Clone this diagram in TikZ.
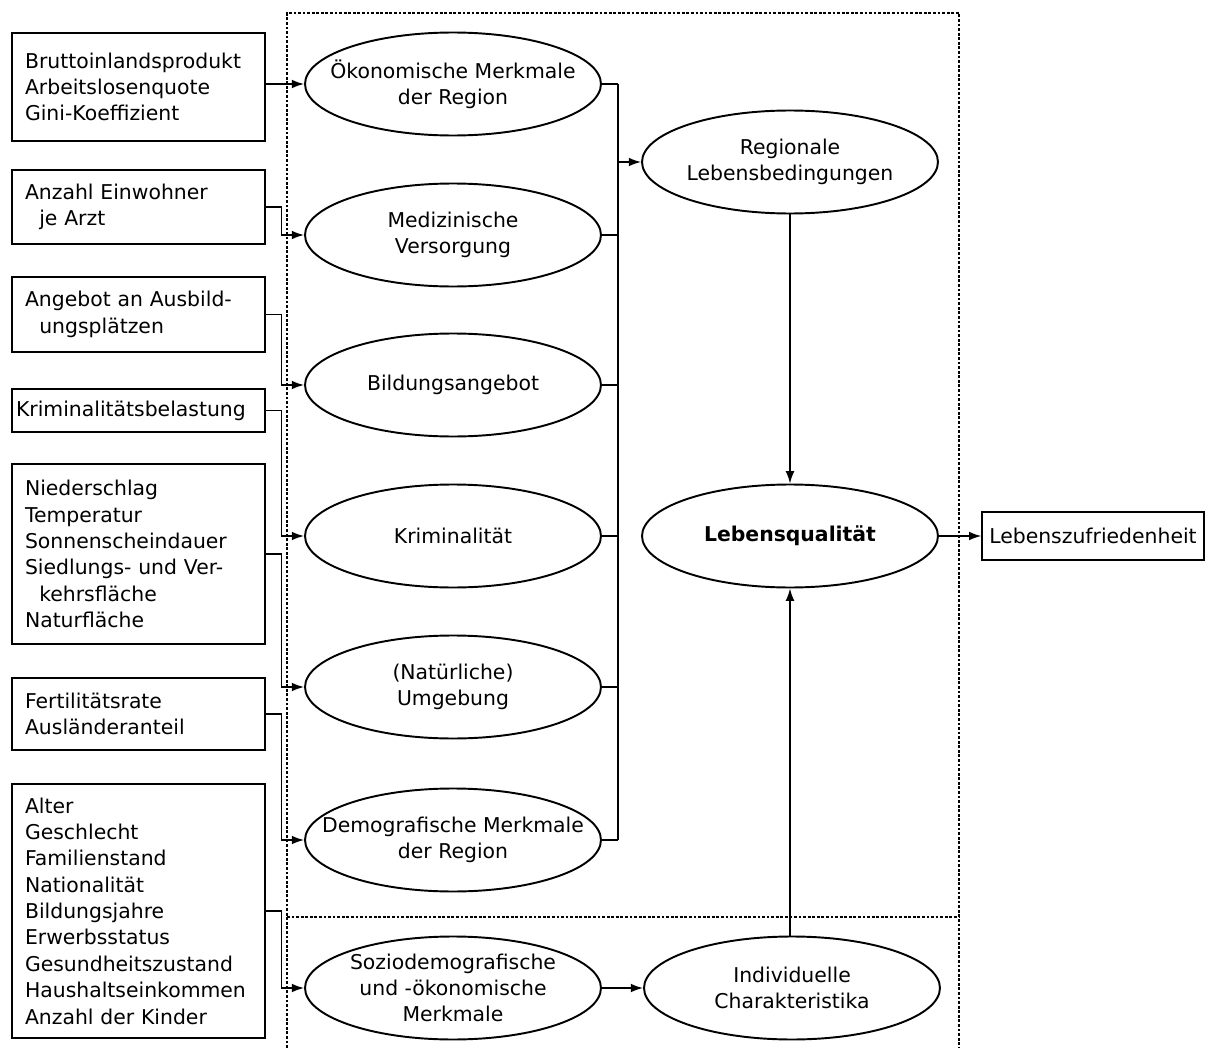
\documentclass[tikz,border=0pt]{standalone}
\usepackage{fontspec}
\setmainfont{DejaVu Sans}
\usepackage{tikz}
\usetikzlibrary{shapes.geometric,arrows.meta}

\tikzset{
	fbox/.style={draw,line width=0.8pt,rectangle,text width=4.54cm,inner xsep=0.26cm,inner ysep=0pt,align=left},
	oval/.style={draw,line width=1.1pt,ellipse,minimum width=5.92cm,minimum height=2.06cm,inner sep=0pt},
	otext/.style={align=center,inner sep=0pt},
	conn/.style={line width=0.85pt},
	arr/.style={line width=0.85pt,-{Latex[length=7pt,width=5pt]}},
	frame/.style={line width=0.6pt,dash pattern=on 1.6pt off 1pt}
}

\begin{document}
\begin{tikzpicture}[x=0.02cm,y=-0.02cm,font=\fontsize{11.6}{15}\selectfont]
			%\draw [help lines] (0,0) grid (1205,1048);
			\useasboundingbox (0,0) rectangle (1205,1048);
			\draw[frame] (287,1048) -- (287,13) -- (959,13) -- (959,1048);
			\draw[frame] (287,917) -- (959,917);
			% left boxes
			\node[fbox,minimum height=2.16cm] (bip) at (138.5,87) {Bruttoinlandsprodukt\\Arbeitslosenquote\\Gini-Koeffizient};
			\node[fbox,minimum height=1.48cm] (arzt) at (138.5,207) {Anzahl Einwohner\\\hspace*{0.7em}je Arzt};
			\node[fbox,minimum height=1.50cm] (ausb) at (138.5,314.5) {Angebot an Ausbild-\\\hspace*{0.7em}ungsplätzen};
			\node[fbox,minimum height=0.86cm,text width=4.9cm,inner xsep=0.08cm] (krimb) at (138.5,410.5) {Kriminalitätsbelastung};
			\node[fbox,minimum height=3.60cm] (natur) at (138.5,554) {Niederschlag\\Temperatur\\Sonnenscheindauer\\Siedlungs- und Ver-\\\hspace*{0.7em}kehrsfläche\\Naturfläche};
			\node[fbox,minimum height=1.44cm] (fert) at (138.5,714) {Fertilitätsrate\\Ausländeranteil};
			\node[fbox,minimum height=5.08cm] (pers) at (138.5,911) {Alter\\Geschlecht\\Familienstand\\Nationalität\\Bildungsjahre\\Erwerbsstatus\\Gesundheitszustand\\Haushaltseinkommen\\Anzahl der Kinder};
			% ellipses
			\node[oval] (oek) at (453,84) {};
			\node[otext] (oek-t) at (oek) {Ökonomische Merkmale\\der Region};
			\node[oval] (med) at (453,235) {};
			\node[otext] (med-t) at (med) {Medizinische\\Versorgung};
			\node[oval] (bild) at (453,385) {};
			\node[otext] (bild-t) at (bild) {Bildungsangebot};
			\node[oval] (krim) at (453,536) {};
			\node[otext] (krim-t) at (krim) {Kriminalität};
			\node[oval] (umg) at (453,687) {};
			\node[otext] (umg-t) at (umg) {(Natürliche)\\Umgebung};
			\node[oval] (demo) at (453,840) {};
			\node[otext] (demo-t) at (demo) {Demografische Merkmale\\der Region};
			\node[oval] (sozio) at (453,988) {};
			\node[otext] (sozio-t) at (sozio) {Soziodemografische\\und -ökonomische\\Merkmale};
			\node[oval] (reg) at (790,162) {};
			\node[otext] (reg-t) at (reg) {Regionale\\Lebensbedingungen};
			\node[oval] (lq) at (790,536) {};
			\node[otext] (lq-t) at (lq) {\textbf{Lebensqualität}};
			\node[oval] (ind) at (792,988) {};
			\node[otext] (ind-t) at (ind) {Individuelle\\Charakteristika};
			\node[draw,line width=0.8pt,minimum width=4.44cm,minimum height=0.96cm,inner sep=0pt] (lz) at (1093,536) {Lebenszufriedenheit};
			% connectors
			\draw[arr] (bip.east |- oek.west) -- (oek.west);
			\foreach \a/\b in {arzt/med,ausb/bild,krimb/krim,natur/umg,fert/demo,pers/sozio}
				\draw[arr] (\a.east) -- ++(16,0) |- (\b.west);
			\coordinate (bt) at (618,84);
			\coordinate (bb) at (618,840);
			\draw[conn] (bt) -- (bb);
			\foreach \e in {oek,med,bild,krim,umg,demo}
				\draw[conn] (\e.east) -- (\e.east -| bt);
			\draw[arr] (bt |- reg.west) -- (reg.west);
			\draw[arr] (reg.south) -- (lq.north);
			\draw[arr] (ind.north -| lq.south) -- (lq.south);
			\draw[arr] (sozio.east) -- (ind.west);
			\draw[arr] (lq.east) -- (lz.west);
		\end{tikzpicture}
\end{document}
